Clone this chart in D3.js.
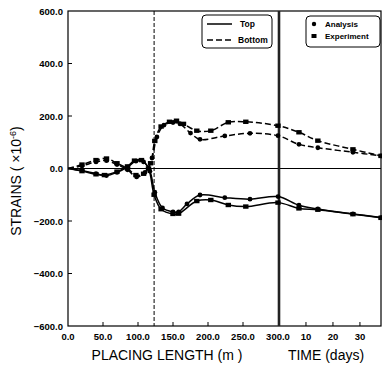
<!DOCTYPE html>
<html><head><meta charset="utf-8">
<script src="https://cdn.jsdelivr.net/npm/d3@7"></script>
<style>body{margin:0;background:#fff}svg{display:block}text{font-family:"Liberation Sans",Arial,sans-serif;fill:#000}</style>
</head><body><svg id="c" width="382" height="367"></svg>
<script>
// ---- data ----
const yTicks = [-600, -400, -200, 0, 200, 400, 600];
const lengthTicks = [0, 50, 100, 150, 200, 250, 300];
const timeTicks = [10, 20, 30];
const placingEnd = 123; // dashed vertical marker (m)

// [placing length (m), strain]
const topAnalysisLen = [[0,0],[20,-8],[40,-20],[55,-27],[70,-15],[85,5],[97,28],[108,25],[117,-10],[124,-90],[135,-150],[150,-165],[158,-165],[170,-135],[188.6,-101],[224,-111],[260,-117],[300,-107]];
const topExperimentLen = [[0,0],[20,-10],[40,-22],[52,-25],[70,-12],[85,8],[95,30],[105,32],[115,0],[123,-100],[133,-155],[150,-173],[158,-172],[184,-124],[204,-120],[229,-139],[254,-145],[300,-130]];
const bottomAnalysisLen = [[0,0],[20,10],[40,25],[55,30],[70,15],[85,-5],[98,-32],[110,-15],[120,40],[127,120],[137,165],[150,175],[160,170],[175,135],[188.6,111],[224,124],[260,134],[300,125]];
const bottomExperimentLen = [[0,0],[20,15],[40,32],[55,38],[70,20],[85,0],[97,-25],[108,-20],[118,20],[124,105],[133,160],[145,178],[155,182],[165,170],[184,144],[204,144],[229,176],[254,178],[300,163]];
// [time (days), strain]
const topAnalysisTime = [[7.4,-140],[14.4,-154],[27.4,-173],[37.8,-187]];
const topExperimentTime = [[7.4,-152],[14.4,-157],[27.4,-174],[37.8,-188]];
const bottomAnalysisTime = [[7.4,92],[14.4,79],[27.4,62],[37.8,48]];
const bottomExperimentTime = [[7.4,138],[14.4,106],[27.4,73],[37.8,48]];

// ---- layout ----
const svg = d3.select("#c");
const L = 68, T = 11, B = 326, R = 381;
const xLen = d3.scaleLinear().domain([0,300]).range([L,278]);
const xTime = d3.scaleLinear().domain([0,37.8]).range([279,R]);
const y = d3.scaleLinear().domain([-600,600]).range([B,T]);

const series = [
  {len: topAnalysisLen, time: topAnalysisTime, dash: null, mark: "circle"},
  {len: topExperimentLen, time: topExperimentTime, dash: null, mark: "square"},
  {len: bottomAnalysisLen, time: bottomAnalysisTime, dash: "6,3", mark: "circle"},
  {len: bottomExperimentLen, time: bottomExperimentTime, dash: "6,3", mark: "square"}
];

// frame
svg.append("rect").attr("x",L).attr("y",T).attr("width",R-L).attr("height",B-T)
  .attr("fill","none").attr("stroke","#000").attr("stroke-width",1.2);
// zero line
svg.append("line").attr("x1",L).attr("x2",R).attr("y1",y(0)).attr("y2",y(0)).attr("stroke","#000").attr("stroke-width",1);
// dashed vertical
svg.append("line").attr("x1",xLen(placingEnd)).attr("x2",xLen(placingEnd)).attr("y1",T).attr("y2",B)
  .attr("stroke","#000").attr("stroke-width",1).attr("stroke-dasharray","4,2");
// thick separator
svg.append("line").attr("x1",xTime(0)).attr("x2",xTime(0)).attr("y1",T).attr("y2",B)
  .attr("stroke","#222").attr("stroke-width",2.6);

// y axis ticks + labels
const yAxis = svg.append("g");
yTicks.forEach(v=>{
  if (v!==600 && v!==-600 && v!==0) yAxis.append("line").attr("x1",L).attr("x2",L+4).attr("y1",y(v)).attr("y2",y(v)).attr("stroke","#000");
  yAxis.append("text").attr("x",L-5).attr("y",y(v)+3.5).attr("text-anchor","end")
    .attr("font-size",9.5).attr("font-weight","bold").text(d3.format(".1f")(v));
});
// x ticks
lengthTicks.forEach(v=>{
  if (v>0 && v<300) svg.append("line").attr("x1",xLen(v)).attr("x2",xLen(v)).attr("y1",B).attr("y2",B-4).attr("stroke","#000");
  svg.append("text").attr("x",xLen(v)).attr("y",B+14).attr("text-anchor","middle")
    .attr("font-size",9.5).attr("font-weight","bold").text(d3.format(".1f")(v));
});
timeTicks.forEach(v=>{
  svg.append("line").attr("x1",xTime(v)).attr("x2",xTime(v)).attr("y1",B).attr("y2",B-4).attr("stroke","#000");
  svg.append("text").attr("x",xTime(v)).attr("y",B+14).attr("text-anchor","middle")
    .attr("font-size",9.5).attr("font-weight","bold").text(v);
});

// axis titles
svg.append("text").attr("x",167).attr("y",360).attr("text-anchor","middle").attr("font-size",14).text("PLACING LENGTH (m )");
svg.append("text").attr("x",326).attr("y",360).attr("text-anchor","middle").attr("font-size",14).text("TIME (days)");
const yt = svg.append("text").attr("transform","translate(21,181) rotate(-90)").attr("text-anchor","middle").attr("font-size",14);
yt.append("tspan").text("STRAINS ( \u00d710");
yt.append("tspan").attr("dy",-5).attr("font-size",9).text("-6");
yt.append("tspan").attr("dy",5).text(")");

// curves
const line = d3.line().curve(d3.curveCatmullRom.alpha(0.5));
series.forEach(s=>{
  const pts = s.len.map(d=>[xLen(d[0]), y(d[1])]).concat(s.time.map(d=>[xTime(d[0]), y(d[1])]));
  svg.append("path").attr("d",line(pts)).attr("fill","none").attr("stroke","#000").attr("stroke-width",1.5)
    .attr("stroke-dasharray",s.dash);
  const g = svg.append("g");
  pts.slice(1).forEach(p=>{
    if (s.mark==="circle") g.append("circle").attr("cx",p[0]).attr("cy",p[1]).attr("r",2.4).attr("fill","#000");
    else g.append("rect").attr("x",p[0]-2.7).attr("y",p[1]-2.2).attr("width",5.4).attr("height",4.4).attr("fill","#000");
  });
});

// legends
const lg1 = svg.append("g");
lg1.append("rect").attr("x",202).attr("y",15).attr("width",70).attr("height",33).attr("rx",4)
  .attr("fill","#fff").attr("stroke","#000").attr("stroke-width",1);
lg1.append("line").attr("x1",207).attr("x2",232).attr("y1",24).attr("y2",24).attr("stroke","#000").attr("stroke-width",1.5);
lg1.append("line").attr("x1",207).attr("x2",232).attr("y1",40).attr("y2",40).attr("stroke","#000").attr("stroke-width",1.5).attr("stroke-dasharray","6,3");
lg1.append("text").attr("x",240).attr("y",27).attr("font-size",8.5).attr("font-weight","bold").text("Top");
lg1.append("text").attr("x",238).attr("y",43).attr("font-size",8.5).attr("font-weight","bold").text("Bottom");
const lg2 = svg.append("g");
lg2.append("rect").attr("x",306).attr("y",16).attr("width",74).attr("height",31).attr("rx",4)
  .attr("fill","#fff").attr("stroke","#000").attr("stroke-width",1);
lg2.append("circle").attr("cx",314).attr("cy",24).attr("r",2.2).attr("fill","#000");
lg2.append("rect").attr("x",311.5).attr("y",34).attr("width",5).attr("height",4).attr("fill","#000");
lg2.append("text").attr("x",325).attr("y",27).attr("font-size",8).attr("font-weight","bold").text("Analysis");
lg2.append("text").attr("x",325).attr("y",39).attr("font-size",8).attr("font-weight","bold").text("Experiment");
</script></body></html>
